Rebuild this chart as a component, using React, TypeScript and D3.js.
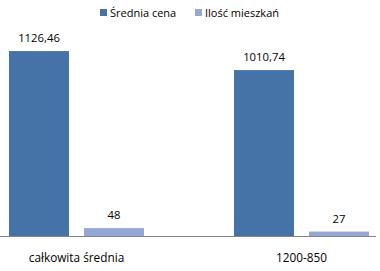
import React from "react";
import * as d3 from "d3";

const categories = ["całkowita średnia", "1200-850"];
const seriesNames = ["Średnia cena", "Ilość mieszkań"];
const sredniaCena = [1126.46, 1010.74];
const iloscMieszkan = [48, 27];
const valueLabels = [["1126,46", "1010,74"], ["48", "27"]];
const colors = ["#4572A7", "#93A9D4"];

export default function App() {
  const W = 380, H = 271;
  const baseline = 236;
  const x0 = d3.scaleBand<string>().domain(categories).range([9, 369]).paddingInner(0.4).paddingOuter(0);
  const x1 = d3.scaleBand<string>().domain(seriesNames).range([0, x0.bandwidth()]).paddingInner(0.2);
  const y = d3.scaleLinear().domain([0, 1200]).range([baseline, baseline - 197]);
  const series = [sredniaCena, iloscMieszkan];
  const font = "Open Sans, sans-serif";
  return (
    <svg width={W} height={H} style={{ position: "absolute", left: 0, top: 0, background: "#fff" }}>
      <rect x={0} y={0} width={W} height={H} fill="#fff" />
      {series.map((vals, si) =>
        categories.map((c, ci) => {
          const bx = (x0(c) ?? 0) + (x1(seriesNames[si]) ?? 0);
          const top = y(vals[ci]);
          return (
            <g key={`${si}-${ci}`}>
              <rect x={bx} y={top} width={x1.bandwidth()} height={baseline - top} fill={colors[si]} />
              <text x={bx + x1.bandwidth() / 2} y={top - 9} textAnchor="middle" fontFamily={font} fontSize={11.3} fill="#000">
                {valueLabels[si][ci]}
              </text>
            </g>
          );
        })
      )}
      <line x1={0} x2={376} y1={baseline + 0.5} y2={baseline + 0.5} stroke="#868686" strokeWidth={1} />
      {categories.map((c) => (
        <text key={c} x={(x0(c) ?? 0) + x0.bandwidth() / 2} y={262} textAnchor="middle" fontFamily={font} fontSize={11.8} fill="#000">
          {c}
        </text>
      ))}
      {seriesNames.map((s, i) => {
        const lx = [100, 195][i];
        return (
          <g key={s}>
            <rect x={lx} y={9} width={7} height={7} fill={colors[i]} />
            <text x={lx + 10} y={16.5} fontFamily={font} fontSize={11} fill="#000">{s}</text>
          </g>
        );
      })}
    </svg>
  );
}
